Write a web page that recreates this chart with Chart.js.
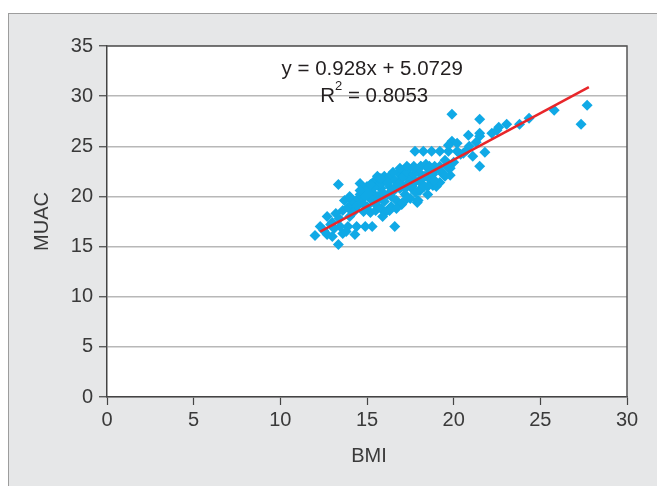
<!DOCTYPE html>
<html><head><meta charset="utf-8">
<script src="https://cdn.jsdelivr.net/npm/chart.js@4"></script>
<style>
html,body{margin:0;padding:0;background:#fff;width:657px;height:486px;overflow:hidden}
#panel{position:absolute;left:8px;top:13px;width:649px;height:473px;background:#e6e7e8;border-left:1.5px solid #9d9d9d;border-top:1.5px solid #9d9d9d;box-sizing:border-box}
#wrap{position:absolute;left:0;top:0;width:657px;height:486px}
</style></head>
<body>
<div id="panel"></div>
<div id="wrap"><canvas id="c" width="657" height="486"></canvas></div>
<script>
// BMI (x) and MUAC (y) readings
const bmi = [12.0,12.3,12.5,12.7,12.7,13.0,13.0,13.2,13.35,13.35,13.6,13.6,13.45,13.9,14.4,14.9,15.3,16.6,14.6,13.8,14.0,14.3,14.2,14.5,
 13.7,13.9,14.1,14.2,14.5,14.6,14.8,14.8,15.0,15.0,15.2,15.2,15.3,15.4,15.5,15.5,15.6,15.6,15.8,15.8,15.9,16.0,16.0,16.1,16.2,16.3,16.3,16.4,16.5,16.6,16.7,16.8,16.9,
 17.0,17.0,17.1,17.2,17.3,17.4,17.5,17.5,17.6,17.7,17.8,17.9,18.0,18.0,18.1,18.2,18.3,18.4,18.5,18.6,18.7,18.8,18.9,19.0,19.2,19.2,19.4,19.5,19.7,19.8,
 14.4,14.7,14.9,15.1,15.3,15.7,15.9,16.1,16.4,16.6,16.9,17.2,17.4,17.6,15.0,15.4,15.7,16.2,16.5,16.8,17.1,17.3,17.7,18.1,18.4,
 17.0,17.95,18.8,18.06,17.3,18.5,17.8,16.7,16.3,15.9,
 17.77,18.25,18.73,19.2,19.7,20.2,19.9,19.9,20.2,19.7,20.0,20.56,20.75,20.85,21.1,21.5,21.5,21.5,21.5,21.8,22.2,22.5,22.6,23.06,23.8,24.35,25.8,27.35,27.7,19.8,
 16.9,17.3,17.7,18.1,18.5,18.9,19.3,19.6,20.4,20.9,21.3,18.3,18.9,19.5,14.0,14.6,15.2,15.8,13.1,13.4,12.9,14.2,15.6];
const muac = [16.1,17.0,16.6,18.0,16.2,16.0,17.4,18.3,15.2,21.2,18.6,16.3,17.0,17.0,17.0,17.0,17.0,17.0,21.3,16.5,18.0,16.2,18.8,19.2,
 19.6,18.9,19.2,19.5,19.8,20.2,18.5,20.6,19.0,21.0,18.4,19.8,20.4,21.5,18.6,19.2,20.0,22.0,18.8,20.8,21.4,19.5,22.0,18.5,20.2,21.0,22.0,19.0,20.5,21.6,19.6,22.3,20.8,
 21.8,19.2,22.6,20.2,21.2,22.8,19.8,22.0,20.8,23.0,21.5,19.4,22.4,20.6,23.0,21.2,22.0,22.0,20.2,23.0,21.6,22.2,22.6,21.0,23.0,21.4,22.2,23.6,22.8,22.1,
 19.0,19.4,20.0,20.8,19.6,21.2,20.4,21.6,20.0,20.8,21.4,20.8,21.8,21.0,20.2,20.9,21.8,21.4,22.4,21.2,22.0,22.4,22.2,21.8,23.2,
 19.3,19.6,21.1,20.6,19.8,21.0,20.4,18.8,18.6,18.0,
 24.5,24.5,24.5,24.5,24.5,24.5,28.2,25.5,25.3,25.1,23.4,24.3,24.6,26.1,24.0,23.0,26.3,26.0,27.7,24.4,26.3,26.6,26.9,27.2,27.2,27.8,28.6,27.2,29.1,22.8,
 22.8,23.0,22.8,23.0,22.8,23.0,22.4,23.0,24.2,25.0,25.4,21.0,21.6,22.0,20.0,20.6,21.2,21.8,16.8,17.8,17.2,18.4,19.6];
// trendline endpoints as read
const trendX = [12.3, 27.8];
const trendY = [16.5, 30.9];
const xTicks = [0,5,10,15,20,25,30];
const yTicks = [0,5,10,15,20,25,30,35];
const xTitle = 'BMI';
const yTitle = 'MUAC';
const eqText = 'y = 0.928x + 5.0729';
const r2Value = '0.8053';

const pts = bmi.map((x,i)=>({x:x,y:muac[i]}));
const trend = trendX.map((x,i)=>({x:x,y:trendY[i]}));
const FONT = '"Liberation Sans", Arial, sans-serif';
const TXT = '#3a3a3a';

const frame = {
  id:'frame',
  beforeDraw(chart){
    const a=chart.chartArea, c=chart.ctx;
    c.save(); c.fillStyle='#fff'; c.fillRect(a.left,a.top,a.right-a.left,a.bottom-a.top); c.restore();
  },
  afterDraw(chart){
    const a=chart.chartArea, c=chart.ctx, xs=chart.scales.x, ys=chart.scales.y;
    c.save();
    c.strokeStyle='#555'; c.lineWidth=1.5;
    c.beginPath(); c.moveTo(a.left,a.top); c.lineTo(a.right,a.top); c.lineTo(a.right,a.bottom); c.stroke();
    // axis titles
    c.fillStyle=TXT; c.font='20px '+FONT; c.textAlign='center'; c.textBaseline='middle';
    c.fillText(xTitle,(a.left+a.right)/2+2,456);
    c.save(); c.translate(42,(a.top+a.bottom)/2); c.rotate(-Math.PI/2); c.fillText(yTitle,0,0); c.restore();
    // equation
    c.fillStyle='#231f20'; c.font='20.5px '+FONT;
    const cx=xs.getPixelForValue(15.3);
    c.fillText(eqText,cx,ys.getPixelForValue(32.65));
    const y2=ys.getPixelForValue(29.95);
    const s1='R', s2=' = '+r2Value;
    const w1=c.measureText(s1).width, w2=c.measureText(s2).width;
    c.font='13px '+FONT; const wsup=c.measureText('2').width;
    const tot=w1+wsup+w2; let x0=cx-tot/2+2;
    c.textAlign='left'; c.font='20.5px '+FONT; c.fillText(s1,x0,y2);
    c.font='13px '+FONT; c.fillText('2',x0+w1,y2-10);
    c.font='20.5px '+FONT; c.fillText(s2,x0+w1+wsup,y2);
    c.restore();
  }
};

new Chart(document.getElementById('c'),{
  type:'scatter',
  data:{datasets:[
    {label:'trend',type:'line',data:trend,borderColor:'#e8262a',borderWidth:2.5,pointRadius:0,fill:false,order:0},
    {label:'data',data:pts,pointStyle:'rectRot',pointRadius:5.5,pointHoverRadius:5.5,backgroundColor:'#10a9e6',borderColor:'#10a9e6',borderWidth:0,order:1}
  ]},
  options:{
    responsive:false,animation:false,
    layout:{padding:{left:0,top:46,right:30,bottom:0}},
    plugins:{legend:{display:false},tooltip:{enabled:false}},
    scales:{
      x:{type:'linear',min:0,max:30,
        afterBuildTicks(s){s.ticks=xTicks.map(v=>({value:v}));},
        afterFit(s){s.height=89;},
        border:{display:true,color:'#444',width:1.5},
        grid:{drawOnChartArea:false,drawTicks:true,tickLength:8,tickColor:'#444',tickWidth:1.2},
        ticks:{color:TXT,font:{family:FONT,size:20},padding:3,maxRotation:0},
        title:{display:false}
      },
      y:{type:'linear',min:0,max:35,
        afterBuildTicks(s){s.ticks=yTicks.map(v=>({value:v}));},
        afterFit(s){s.width=107;},
        border:{display:true,color:'#444',width:1.5},
        grid:{drawOnChartArea:true,color:'#b8b8b8',lineWidth:1.5,drawTicks:true,tickLength:8,tickColor:'#444',tickWidth:1.2},
        ticks:{color:TXT,font:{family:FONT,size:20},padding:6},
        title:{display:false}
      }
    }
  },
  plugins:[frame]
});
</script>
</body></html>
